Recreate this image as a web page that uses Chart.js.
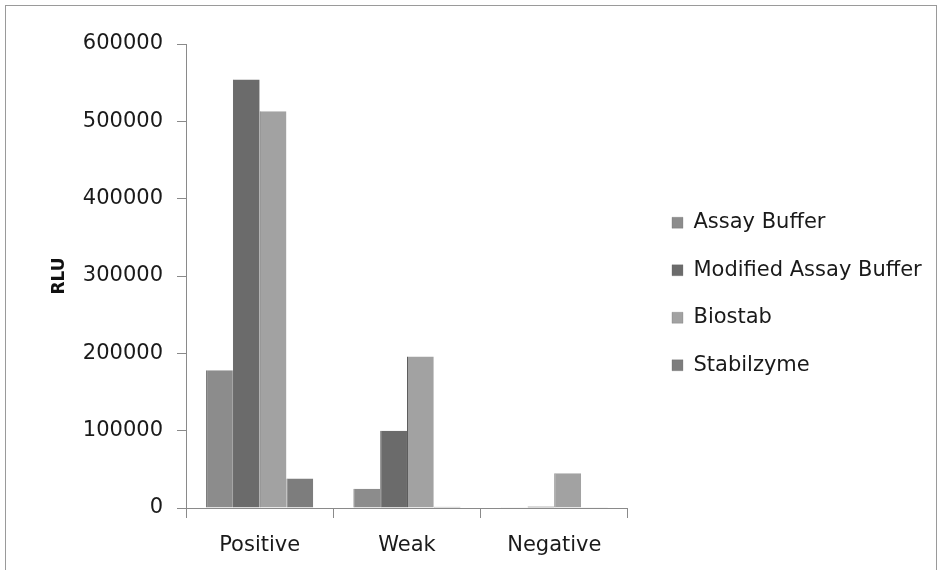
<!DOCTYPE html>
<html>
<head>
<meta charset="utf-8">
<script src="https://cdn.jsdelivr.net/npm/chart.js@4.4.1/dist/chart.umd.min.js"></script>
<style>
html, body { margin: 0; padding: 0; background: #fff; }
#wrap { width: 942px; height: 570px; }
</style>
</head>
<body>
<div id="wrap"><canvas id="rluChart" width="942" height="570"></canvas></div>
<script>
// values (RLU)
const categories = ['Positive', 'Weak', 'Negative'];
const assayBuffer = [178000, 25000, 300];
const modifiedAssayBuffer = [554000, 100000, 2000];
const biostab = [513000, 196000, 45000];
const stabilzyme = [38000, 1500, 300];
const seriesNames = ['Assay Buffer', 'Modified Assay Buffer', 'Biostab', 'Stabilzyme'];
const seriesColors = ['#8c8c8c', '#6b6b6b', '#a2a2a2', '#7d7d7d'];
const yMax = 600000;
const yStep = 100000;

const FONT = 'DejaVu Sans';
const axisGrey = '#8a8a8a';

// white page + thin frame like the scan
const frame = {
	id: 'frame',
	beforeDraw: (chart) => {
		const ctx = chart.ctx;
		ctx.save();
		ctx.fillStyle = '#fff';
		ctx.fillRect(0, 0, chart.width, chart.height);
		ctx.strokeStyle = '#9a9a9a';
		ctx.lineWidth = 1;
		ctx.strokeRect(5.5, 5.5, chart.width - 11, chart.height + 10);
		ctx.restore();
	}
};

// legend box is capped at a quarter of the width by the layout, so widen it here
// and keep a gap from the plot area
const legendShift = {
	id: 'legendShift',
	afterLayout: (chart) => {
		const lg = chart.legend;
		lg.left = chart.chartArea.right + 17.5;
		lg.right = chart.width - 2;
		lg.width = lg.right - lg.left;
		lg.top -= 13; lg.bottom -= 13;
	}
};

const allSeries = [assayBuffer, modifiedAssayBuffer, biostab, stabilzyme];
let datasets = [];
allSeries.forEach((list, i) => {
	datasets.push({
		label: seriesNames[i],
		data: list,
		backgroundColor: seriesColors[i],
		borderColor: '#5c5c5c',
		borderWidth: { left: 1, right: 0, top: 0, bottom: 0 },
		categoryPercentage: 0.727,
		barPercentage: 1.0
	});
});

new Chart(document.getElementById('rluChart'), {
	type: 'bar',
	data: { labels: categories, datasets: datasets },
	options: {
		responsive: false,
		animation: false,
		layout: { padding: { left: 45, top: 44, right: 119.7, bottom: 0 } },
		plugins: {
			tooltip: { enabled: false },
			legend: {
				position: 'right',
				labels: {
					boxWidth: 11,
					boxHeight: 11,
					padding: 26.5,
					color: '#1a1a1a',
					font: { family: FONT, size: 21 }
				}
			}
		},
		scales: {
			x: {
				grid: { drawOnChartArea: false, tickLength: 10, color: axisGrey },
				border: { color: axisGrey },
				ticks: { padding: 15, color: '#1a1a1a', font: { family: FONT, size: 21 } },
				afterFit: (scale) => { scale.height = 62; }
			},
			y: {
				min: 0,
				max: yMax,
				grid: { drawOnChartArea: false, tickLength: 9, color: axisGrey },
				border: { color: axisGrey },
				ticks: {
					stepSize: yStep,
					padding: 14,
					color: '#1a1a1a',
					font: { family: FONT, size: 21 },
					callback: (v) => String(v)
				},
				title: {
					display: true,
					text: 'RLU',
					color: '#111',
					padding: { top: 4, bottom: 4 },
					font: { family: FONT, size: 17, weight: 'bold' }
				},
				afterFit: (scale) => { scale.width = 141; }
			}
		}
	},
	plugins: [frame, legendShift]
});
</script>
</body>
</html>
